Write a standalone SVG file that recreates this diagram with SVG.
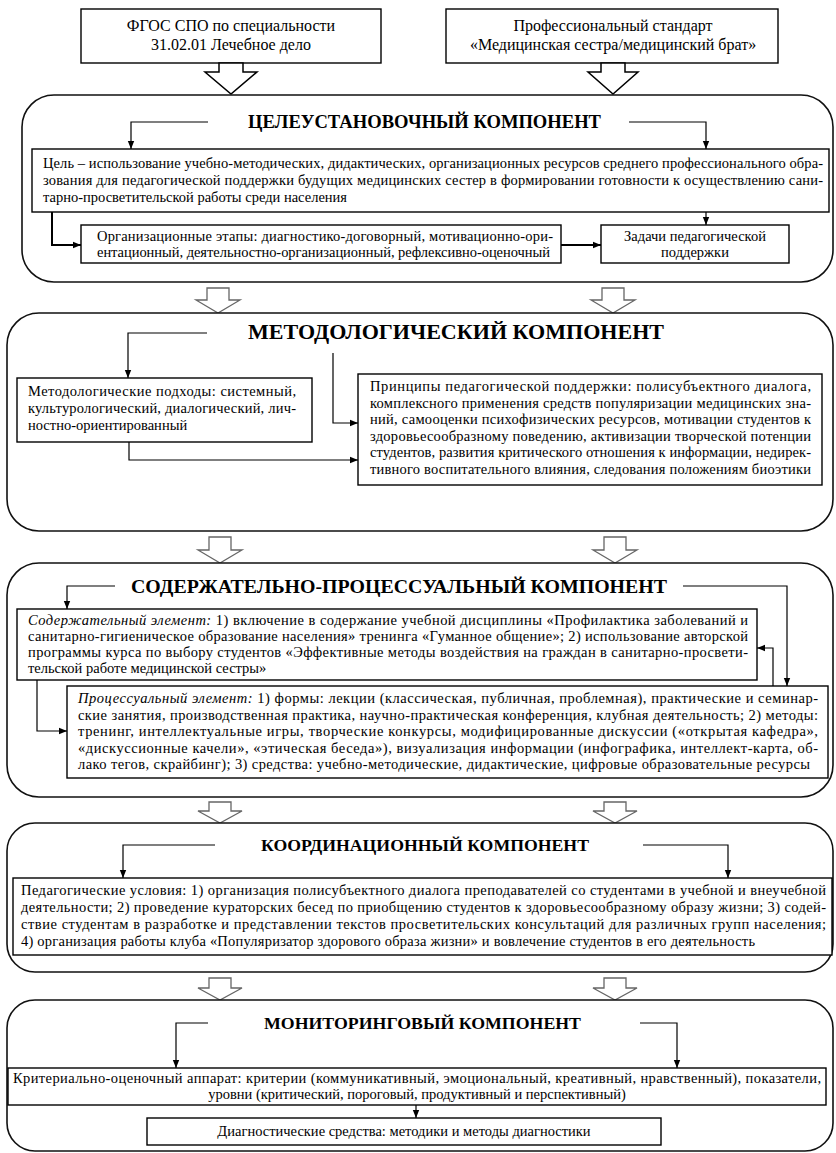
<svg xmlns="http://www.w3.org/2000/svg" width="836" height="1153" viewBox="0 0 836 1153">
<defs>
<marker id="ah" viewBox="0 0 10 10" refX="10" refY="5" markerWidth="8" markerHeight="8" markerUnits="userSpaceOnUse" orient="auto"><path d="M0,1 L10,5 L0,9 z" fill="#000"/></marker>
<style>
.panel{fill:#fff;stroke:#111;stroke-width:1.6}
.box{fill:#fff;stroke:#000;stroke-width:1.4}
.t{font-family:"Liberation Serif","Times New Roman",serif;font-size:14.5px;fill:#000}
.h{font-size:16px}
.c{text-anchor:middle}
.i{font-style:italic}
.title{font-family:"Liberation Serif","Times New Roman",serif;font-weight:bold;font-size:18px;fill:#000}
.ln{fill:none;stroke:#000;stroke-width:1.2;marker-end:url(#ah)}
.ln2{fill:none;stroke:#000;stroke-width:2;marker-end:url(#ah)}
.hol{fill:#fff;stroke:#000;stroke-width:1.5}
.hol2{fill:#fff;stroke:#666;stroke-width:1.3}
</style>
</defs>
<rect width="836" height="1153" fill="#fff"/>

<g id="src1">
<rect class="box" x="81" y="9" width="300" height="54"/>
<text class="t h c" x="231" y="31">ФГОС СПО по специальности</text>
<text class="t h c" x="231" y="50">31.02.01 Лечебное дело</text>
</g>
<g id="src2">
<rect class="box" x="446" y="9" width="332" height="54"/>
<text class="t h c" x="613" y="31">Профессиональный стандарт</text>
<text class="t h c" x="613" y="50">«Медицинская сестра/медицинский брат»</text>
</g>

<g id="big-arrows">
<polygon class="hol" points="219,63 219,72 205,72 231,94 257,72 243,72 243,63"/>
<polygon class="hol" points="601,63 601,72 588,72 613,94 638,72 625,72 625,63"/>
<polygon class="hol2" points="207,288 207,300 196,300 218,313 240,300 229,300 229,288"/>
<polygon class="hol2" points="602,288 602,300 591,300 613,313 635,300 624,300 624,288"/>
<polygon class="hol2" points="209,537 209,550 198,550 220,563 242,550 231,550 231,537"/>
<polygon class="hol2" points="604,537 604,550 593,550 615,563 637,550 626,550 626,537"/>
<polygon class="hol2" points="209,802 209,811 198,811 220,823 242,811 231,811 231,802"/>
<polygon class="hol2" points="604,802 604,811 593,811 615,823 637,811 626,811 626,802"/>
<polygon class="hol2" points="209,978 209,988 198,988 220,1000 242,988 231,988 231,978"/>
<polygon class="hol2" points="604,978 604,988 593,988 615,1000 637,988 626,988 626,978"/>
</g>

<g id="panel1">
<rect class="panel" x="22" y="95" width="811" height="187" rx="32"/>
<text class="title" x="248" y="128" textLength="353" lengthAdjust="spacingAndGlyphs">ЦЕЛЕУСТАНОВОЧНЫЙ КОМПОНЕНТ</text>
</g>
<g id="goal">
<rect class="box" x="32" y="149" width="797" height="63"/>
<text class="t" x="43" y="168" textLength="780">Цель – использование учебно-методических, дидактических, организационных ресурсов среднего профессионального обра-</text>
<text class="t" x="43" y="185" textLength="780">зования для педагогической поддержки будущих медицинских сестер в формировании готовности к осуществлению сани-</text>
<text class="t" x="43" y="202">тарно-просветительской работы среди населения</text>
</g>
<g id="stages">
<rect class="box" x="81" y="225" width="480" height="38"/>
<text class="t" x="97" y="241" textLength="456">Организационные этапы: диагностико-договорный, мотивационно-ори-</text>
<text class="t" x="97" y="257" textLength="453">ентационный, деятельностно-организационный, рефлексивно-оценочный</text>
</g>
<g id="tasks">
<rect class="box" x="601" y="225" width="188" height="38"/>
<text class="t c" x="695" y="241">Задачи педагогической</text>
<text class="t c" x="695" y="257">поддержки</text>
</g>

<g id="panel2">
<rect class="panel" x="7" y="313" width="826" height="218" rx="32"/>
<text class="title" style="font-size:20px" x="248" y="339" textLength="416" lengthAdjust="spacingAndGlyphs">МЕТОДОЛОГИЧЕСКИЙ КОМПОНЕНТ</text>
</g>
<g id="approaches">
<rect class="box" x="17" y="378" width="295" height="64"/>
<text class="t" x="28" y="396" textLength="268">Методологические подходы: системный,</text>
<text class="t" x="28" y="413" textLength="268">культурологический, диалогический, лич-</text>
<text class="t" x="28" y="430">ностно-ориентированный</text>
</g>
<g id="principles">
<rect class="box" x="358" y="374" width="464" height="111"/>
<text class="t" x="370" y="391" textLength="441">Принципы педагогической поддержки: полисубъектного диалога,</text>
<text class="t" x="370" y="407.5" textLength="441">комплексного применения средств популяризации медицинских зна-</text>
<text class="t" x="370" y="424" textLength="441">ний, самооценки психофизических ресурсов, мотивации студентов к</text>
<text class="t" x="370" y="440.5" textLength="441">здоровьесообразному поведению, активизации творческой потенции</text>
<text class="t" x="370" y="457" textLength="441">студентов, развития критического отношения к информации, недирек-</text>
<text class="t" x="370" y="473.5" textLength="441">тивного воспитательного влияния, следования положениям биоэтики</text>
</g>

<g id="panel3">
<rect class="panel" x="7" y="563" width="826" height="234" rx="32"/>
<text class="title" style="font-size:19px" x="131" y="593" textLength="536" lengthAdjust="spacingAndGlyphs">СОДЕРЖАТЕЛЬНО-ПРОЦЕССУАЛЬНЫЙ КОМПОНЕНТ</text>
</g>
<g id="content">
<rect class="box" x="17" y="609" width="740" height="71"/>
<text class="t" x="28" y="625" textLength="720"><tspan class="i">Содержательный элемент:</tspan> 1) включение в содержание учебной дисциплины «Профилактика заболеваний и</text>
<text class="t" x="28" y="641" textLength="720">санитарно-гигиеническое образование населения» тренинга «Гуманное общение»; 2) использование авторской</text>
<text class="t" x="28" y="657" textLength="720">программы курса по выбору студентов «Эффективные методы воздействия на граждан в санитарно-просвети-</text>
<text class="t" x="28" y="673">тельской работе медицинской сестры»</text>
</g>
<g id="process">
<rect class="box" x="67" y="686" width="761" height="92"/>
<text class="t" x="78" y="703" textLength="740"><tspan class="i">Процессуальный элемент:</tspan> 1) формы: лекции (классическая, публичная, проблемная), практические и семинар-</text>
<text class="t" x="78" y="719.5" textLength="740">ские занятия, производственная практика, научно-практическая конференция, клубная деятельность; 2) методы:</text>
<text class="t" x="78" y="736" textLength="740">тренинг, интеллектуальные игры, творческие конкурсы, модифицированные дискуссии («открытая кафедра»,</text>
<text class="t" x="78" y="752.5" textLength="740">«дискуссионные качели», «этическая беседа»), визуализация информации (инфографика, интеллект-карта, об-</text>
<text class="t" x="78" y="769" textLength="732">лако тегов, скрайбинг); 3) средства: учебно-методические, дидактические, цифровые образовательные ресурсы</text>
</g>

<g id="panel4">
<rect class="panel" x="7" y="823" width="826" height="149" rx="28"/>
<text class="title" style="font-size:17px" x="261" y="851" textLength="328" lengthAdjust="spacingAndGlyphs">КООРДИНАЦИОННЫЙ  КОМПОНЕНТ</text>
</g>
<g id="conditions">
<rect class="box" x="13" y="878" width="819" height="77"/>
<text class="t" x="21" y="895" textLength="805">Педагогические условия: 1) организация полисубъектного диалога преподавателей со студентами в учебной и внеучебной</text>
<text class="t" x="21" y="912" textLength="805">деятельности; 2) проведение кураторских бесед по приобщению студентов к здоровьесообразному образу жизни; 3) содей-</text>
<text class="t" x="21" y="929" textLength="805">ствие студентам в разработке и представлении текстов просветительских консультаций для различных групп населения;</text>
<text class="t" x="21" y="946" textLength="734">4) организация работы клуба «Популяризатор здорового образа жизни» и вовлечение студентов в его деятельность</text>
</g>

<g id="panel5">
<rect class="panel" x="7" y="1000" width="826" height="151" rx="28"/>
<text class="title" style="font-size:17px" x="264" y="1029" textLength="317" lengthAdjust="spacingAndGlyphs">МОНИТОРИНГОВЫЙ  КОМПОНЕНТ</text>
</g>
<g id="criteria">
<rect class="box" x="8" y="1068" width="818" height="37"/>
<text class="t c" x="417" y="1083" textLength="808">Критериально-оценочный аппарат: критерии (коммуникативный, эмоциональный, креативный, нравственный), показатели,</text>
<text class="t c" x="417" y="1099">уровни (критический, пороговый, продуктивный и перспективный)</text>
</g>
<g id="diagnostics">
<rect class="box" x="147" y="1118" width="514" height="27"/>
<text class="t c" x="404" y="1136">Диагностические средства: методики и методы диагностики</text>
</g>

<g id="connectors">
<path class="ln" d="M208,122 H131 V149"/>
<path class="ln" d="M629,122 H706 V149"/>
<path class="ln" d="M706,212 V225"/>
<path class="ln2" d="M52,212 V245 H81"/>
<path class="ln2" d="M561,245 H601"/>
<path class="ln" d="M207,333 H128 V378"/>
<path class="ln" d="M333,353 V423 H358"/>
<path class="ln" d="M129,442 V460 H358"/>
<path class="ln" d="M115,586 H67 V609"/>
<path class="ln" d="M683,586 H787 V686"/>
<path class="ln" d="M773,686 V648 H757"/>
<path class="ln" d="M37,680 V731 H67"/>
<path class="ln" d="M215,845 H123 V878"/>
<path class="ln" d="M643,845 H728 V878"/>
<path class="ln" d="M208,1023 H176 V1068"/>
<path class="ln" d="M640,1023 H677 V1068"/>
<path class="ln" d="M416,1105 V1118"/>
</g>
</svg>
